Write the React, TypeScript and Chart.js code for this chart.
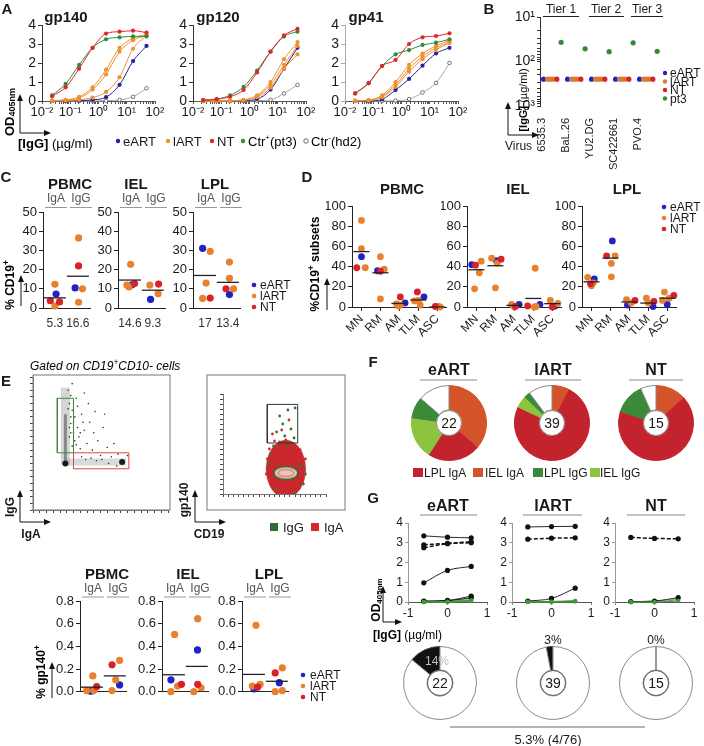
import React, { useEffect, useRef } from "react";
import { Chart, registerables } from "chart.js";

Chart.register(...registerables);

const FONT = "'Liberation Sans', Arial, Helvetica, sans-serif";
Chart.defaults.font.family = FONT;
Chart.defaults.color = "#1a1a1a";

/* ===================== DATA ===================== */
// Panel A: ELISA OD405nm over 3-fold IgG dilutions (µg/ml)
const A_CONC = [0.0229, 0.0686, 0.206, 0.617, 1.85, 5.56, 16.7, 50];
const A_SERIES = ["eART", "lART", "lART", "lART", "NT", "Ctr+", "Ctr-"];
const A_TITLES = ["gp140", "gp120", "gp41"];
const A_GP140 = [
  [0, 0.01, 0.02, 0.06, 0.2, 0.85, 2.1, 2.9],
  [0.02, 0.06, 0.22, 0.72, 1.65, 2.8, 3.3, 3.5],
  [0.02, 0.05, 0.16, 0.6, 1.4, 2.6, 3.2, 3.45],
  [0, 0.02, 0.06, 0.18, 0.48, 1.25, 2.75, 3.45],
  [0.25, 0.72, 1.7, 2.8, 3.55, 3.65, 3.7, 3.6],
  [0.3, 0.9, 1.9, 2.8, 3.25, 3.35, 3.4, 3.4],
  [0, 0, 0, 0, 0.02, 0.06, 0.22, 0.67],
];
const A_GP120 = [
  [0, 0, 0, 0.02, 0.1, 0.6, 1.7, 2.8],
  [0, 0, 0.02, 0.06, 0.3, 1.0, 2.2, 3.1],
  [0, 0, 0.02, 0.05, 0.25, 0.85, 1.9, 2.9],
  [0, 0, 0.01, 0.04, 0.2, 0.7, 1.7, 2.45],
  [0.05, 0.09, 0.23, 0.58, 1.5, 2.6, 3.45, 3.8],
  [0.05, 0.1, 0.3, 0.75, 1.6, 2.6, 3.4, 3.65],
  [0, 0, 0, 0, 0.02, 0.06, 0.4, 0.85],
];
const A_GP41 = [
  [0, 0, 0.09, 0.58, 1.16, 1.86, 2.5, 2.8],
  [0.02, 0.05, 0.3, 1.0, 1.9, 2.5, 2.9, 3.2],
  [0.01, 0.04, 0.25, 0.85, 1.7, 2.35, 2.8, 3.1],
  [0.01, 0.03, 0.2, 0.75, 1.55, 2.2, 2.7, 3.05],
  [0.4, 0.93, 1.85, 2.16, 3.0, 3.35, 3.42, 3.56],
  [0.4, 0.95, 1.84, 2.45, 2.68, 2.95, 3.07, 3.25],
  [0, 0, 0, 0.02, 0.1, 0.45, 0.95, 2.0],
];

// Panel B: neutralization IC50 [IgG] (µg/ml)
const B_VIRUSES = ["6535.3", "BaL.26", "YU2.DG", "SC422661", "PVO.4"];
const B_TIERS = ["Tier 1", "Tier 2", "Tier 3"];
const B_EART = [250, 250, 250, 250, 250];
const B_LART1 = [250, 250, 250, 250, 250];
const B_LART2 = [250, 250, 250, 250, 250];
const B_LART3 = [250, 250, 250, 250, 250];
const B_NT = [250, 250, 250, 250, 250];
const B_PT3 = [37, 52, 60, 38, 59];

// groups: 0 = eART, 1 = lART, 2 = NT
const GROUPS = ["eART", "lART", "NT"];

// Panel C: % of CD19+ (IgA, IgG) per tissue, [group, value]
const C_TISSUES = ["PBMC", "IEL", "LPL"];
const C_ISO = ["IgA", "IgG"];
const C_MEAN_PBMC = [5.3, 16.6];
const C_MEAN_IEL = [14.6, 9.3];
const C_MEAN_LPL = [17, 13.4];
const C_PBMC = [
  [[1, 12.4], [0, 7.3], [2, 3.8], [2, 3.2], [1, 1.0]],
  [[1, 36.6], [2, 22], [0, 10.5], [1, 10], [1, 3]],
];
const C_IEL = [
  [[1, 22.8], [1, 12], [1, 11], [0, 12.1], [2, 12.8]],
  [[1, 12], [2, 12.5], [1, 7.5], [0, 4.5]],
];
const C_LPL = [
  [[0, 31.2], [1, 29.6], [1, 13], [1, 5], [2, 5.2]],
  [[1, 24], [1, 15.5], [2, 10], [1, 10], [0, 7]],
];

// Panel D: % of CD19+ subsets
const D_SUBSETS = ["MN", "RM", "AM", "TLM", "ASC"];
const D_MEAN_PBMC = [55, 34, 3.5, 7, 0];
const D_MEAN_IEL = [37, 41, 1.6, 8.5, 3.3];
const D_MEAN_LPL = [25, 48.6, 5, 3.9, 8.8];
const D_PBMC = [
  [[1, 86], [1, 58], [0, 50], [2, 39], [1, 39]],
  [[1, 50], [0, 36], [2, 35.5], [1, 37.5], [1, 8]],
  [[2, 10], [0, 4], [1, 3], [1, 2], [1, 1]],
  [[2, 15], [0, 10], [1, 6.5], [1, 2], [1, 6]],
  [[2, 0.5], [1, 0], [1, 0.5]],
];
const D_IEL = [
  [[0, 42], [2, 41.5], [1, 45.5], [1, 34], [1, 18]],
  [[1, 48.5], [0, 46], [2, 47.5], [1, 43.5], [1, 19]],
  [[1, 2.5], [0, 2.5], [1, 0], [2, 0.5]],
  [[1, 38.5], [2, 1], [1, 0], [0, 2.5], [1, 0.5]],
  [[1, 6.5], [1, 3.5], [2, 0], [0, 1]],
];
const D_LPL = [
  [[1, 29.5], [0, 27.8], [2, 23], [1, 24], [1, 21]],
  [[0, 65.6], [2, 50.8], [1, 50.8], [1, 43.3], [1, 30]],
  [[1, 7.2], [2, 6.5], [0, 2], [1, 4]],
  [[1, 8.8], [2, 5.6], [0, 0.5], [1, 3.9]],
  [[1, 14.8], [2, 11.5], [1, 8.8], [0, 2.6], [1, 6.5]],
];

// Panel E (bottom): % gp140+ of IgA / IgG B cells
const E_MEAN_PBMC = [0.04, 0.14];
const E_MEAN_IEL = [0.15, 0.224];
const E_MEAN_LPL = [0.153, 0.092];
const E_PBMC = [
  [[1, 0.14], [2, 0.045], [1, 0.01], [0, 0.005], [1, 0.01]],
  [[1, 0.277], [2, 0.238], [1, 0.105], [0, 0.06], [1, 0.01]],
];
const E_IEL = [
  [[1, 0.507], [0, 0.105], [2, 0.065], [1, 0.05], [1, 0]],
  [[1, 0.646], [0, 0.37], [2, 0.065], [1, 0.035], [1, 0]],
];
const E_LPL = [
  [[1, 0.588], [1, 0.05], [1, 0.065], [2, 0.04], [0, 0.025]],
  [[1, 0.21], [2, 0.166], [0, 0.08], [1, 0.01], [1, 0]],
];
// flow cytometry events (arbitrary units 0-100)
const FLOW_IGG_GATE = [[18, 43], [30, 43], [30, 84], [18, 84], [18, 43]];
const FLOW_IGA_GATE = [[30, 31], [71, 31], [71, 43], [30, 43], [30, 31]];
const FLOW_VBAND = [[24, 34], [24, 92]];
const FLOW_VCORE = [[24, 34], [24, 72]];
const FLOW_HBAND = [[25, 36], [69, 36]];
const FLOW_SPOTS = [[24, 35], [66, 36]];
const FLOW_EVENTS = [
  [27, 80], [29, 75], [31, 70], [28, 65], [33, 62], [36, 72], [30, 58], [34, 55], [38, 60], [42, 66],
  [45, 58], [40, 50], [48, 52], [52, 62], [28, 86], [32, 84], [26, 90], [35, 46], [44, 45], [55, 47],
  [60, 50], [50, 41], [38, 88], [27, 55], [29, 48], [58, 40], [63, 42], [46, 74], [53, 72], [70, 41],
  [66, 38], [36, 40], [29, 95], [33, 78], [41, 80], [31, 52], [39, 38], [47, 37], [56, 35], [62, 33],
  [27, 62], [28, 70], [30, 66], [32, 49], [35, 58], [37, 66], [26, 76], [28, 58], [43, 39], [51, 38],
];
const FLOW_GP_GATE = [[43, 51], [72.5, 51], [72.5, 89.6], [43, 89.6], [43, 51]];
const FLOW_IGA_BLOB = [[61, 25]];
const FLOW_IGG_CORE = [[61, 21]];
const FLOW_GP_RED = [
  [48, 60], [57, 64], [64, 74], [61, 54], [50, 53], [67, 49], [45, 45], [73, 40], [78, 30], [44, 25],
  [76, 18], [47, 8], [74, 6], [52, 47], [70, 46], [58, 50], [43, 35], [79, 24], [55, 2], [66, 3],
  [45, 15], [77, 12], [42, 20], [80, 35], [48, 42], [75, 44], [60, 1], [50, 4],
];
const FLOW_GP_GREEN = [
  [55, 78], [63, 84], [58, 70], [66, 65], [52, 62], [60, 58], [69, 56], [55, 52], [70, 86], [46, 40],
  [75, 28], [52, 5], [70, 2], [63, 47], [49, 48], [80, 20], [44, 30], [78, 10],
];

// Panel F: clone distribution (counts), clockwise from top
const F_GROUPS = ["eART", "lART", "NT"];
const F_SEGMENTS = ["IEL IgA", "LPL IgA", "IEL IgG", "LPL IgG", "other"];
const F_EART = [8, 5, 4, 2, 3];
const F_LART = [3, 29, 2, 1, 4];
const F_NT = [2, 10, 0, 2, 1];
const F_LEGEND = ["LPL IgA", "IEL IgA", "LPL IgG", "IEL IgG"];

// Panel G: binding of monoclonal antibodies, x = log10 [IgG] (µg/ml)
const G_X = [-0.6, 0, 0.6];
const G_EART_SOLID = [[3.35, 3.28, 3.25], [0.97, 1.6, 1.8], [0.05, 0.08, 0.3], [0.03, 0.06, 0.22]];
const G_EART_DASHED = [[2.9, 2.97, 3.05], [2.75, 2.95, 3.0]];
const G_EART_GRAY = [[0.02, 0.06, 0.18], [0.01, 0.04, 0.12]];
const G_EART_GREEN = [[0, 0, 0.05], [0, 0.01, 0.08]];
const G_LART_SOLID = [[3.8, 3.82, 3.83], [0.05, 0.18, 0.7]];
const G_LART_DASHED = [[3.18, 3.23, 3.25]];
const G_LART_GRAY = [[0.02, 0.03, 0.08]];
const G_LART_GREEN = [[0, 0, 0.03], [0.02, 0.02, 0.05]];
const G_NT_SOLID = [[0.02, 0.05, 0.22]];
const G_NT_DASHED = [[3.27, 3.22, 3.2]];
const G_NT_GRAY = [[0.01, 0.04, 0.15], [0, 0.03, 0.1]];
const G_NT_GREEN = [[0, 0, 0.05]];
const G_PCT = [14, 3, 0];
const G_TOTAL_LABEL = "5.3% (4/76)";

/* ===================== STYLE ===================== */
const GROUP_COLOR = ["#1f23c4", "#e8812d", "#d8222a"];
const A_COL: Record<string, string> = { eART: "#25259a", lART: "#f0902e", NT: "#e0262a", "Ctr+": "#2f8c3b", "Ctr-": "#666666" };
const A_ORDER: Record<string, number> = { NT: 0, "Ctr+": 1, lART: 2, eART: 3, "Ctr-": 4 };
const F_COLORS = ["#d4532b", "#c3232c", "#8dc43f", "#3b8a3a", "#ffffff"];
const F_LEGEND_COLORS = ["#c3232c", "#d4532b", "#3b8a3a", "#8dc43f"];
const SUPS: Record<string, string> = { "-2": "⁻²", "-1": "⁻¹", "0": "⁰", "1": "¹", "2": "²", "3": "³" };
const pow10Label = (v: number) => {
  const e = Math.log10(v);
  const re = Math.round(e);
  return Math.abs(e - re) < 1e-6 ? "10" + SUPS[String(re)] : "";
};

function ellipseImage(w: number, h: number, fill: string, stroke: string | null, inner: boolean) {
  const c = document.createElement("canvas");
  c.width = w + 4;
  c.height = h + 4;
  const ctx = c.getContext("2d") as CanvasRenderingContext2D;
  ctx.beginPath();
  ctx.ellipse(c.width / 2, c.height / 2, w / 2, h / 2, 0, 0, Math.PI * 2);
  ctx.fillStyle = fill;
  ctx.fill();
  if (stroke) {
    ctx.strokeStyle = stroke;
    ctx.lineWidth = 1.5;
    ctx.stroke();
  }
  if (inner) {
    ctx.beginPath();
    ctx.ellipse(c.width / 2, c.height / 2, w / 2 - 4, h / 2 - 3, 0, 0, Math.PI * 2);
    ctx.strokeStyle = "rgba(180,60,50,0.7)";
    ctx.lineWidth = 1;
    ctx.stroke();
  }
  return c;
}

/* ===================== CHART HELPERS ===================== */
function Plot(props: any) {
  const { l, t, r, b, padL, padB, padT = 8, padR = 12, make } = props;
  const ref = useRef<HTMLCanvasElement | null>(null);
  const W = r - l + padL + padR;
  const H = b - t + padT + padB;
  useEffect(() => {
    const cfg = make();
    const o = cfg.options || (cfg.options = {});
    o.responsive = false;
    o.animation = false;
    o.maintainAspectRatio = false;
    o.devicePixelRatio = 1;
    o.events = [];
    o.layout = { padding: { left: 0, top: padT, right: padR, bottom: 0 } };
    o.plugins = Object.assign({ legend: { display: false }, tooltip: { enabled: false } }, o.plugins || {});
    const zero = (s: any) => {
      s.paddingLeft = 0; s.paddingRight = 0; s.paddingTop = 0; s.paddingBottom = 0;
    };
    o.scales.x.afterFit = (s: any) => { s.height = padB; zero(s); };
    o.scales.y.afterFit = (s: any) => { s.width = padL; zero(s); };
    const ch = new Chart(ref.current as HTMLCanvasElement, cfg);
    return () => ch.destroy();
  }, []);
  return (
    <canvas ref={ref} width={W} height={H}
      style={{ position: "absolute", left: l - padL, top: t - padT, width: W, height: H }} />
  );
}

function Donut(props: any) {
  const { cx, cy, r, values, colors, borders, cutout, rotation = 0, bw = 1 } = props;
  const ref = useRef<HTMLCanvasElement | null>(null);
  const S = 2 * r + 2;
  useEffect(() => {
    const ch = new Chart(ref.current as HTMLCanvasElement, {
      type: "doughnut",
      data: { labels: values.map((_: number, i: number) => String(i)), datasets: [{ data: values, backgroundColor: colors, borderColor: borders, borderWidth: bw }] },
      options: {
        responsive: false, animation: false, maintainAspectRatio: false, devicePixelRatio: 1, events: [],
        cutout, rotation, layout: { padding: 0 },
        plugins: { legend: { display: false }, tooltip: { enabled: false } },
      } as any,
    } as any);
    return () => ch.destroy();
  }, []);
  return <canvas ref={ref} width={S} height={S} style={{ position: "absolute", left: cx - S / 2, top: cy - S / 2, width: S, height: S }} />;
}

function doseCfg(od: number[][], axisColor: string) {
  const datasets = od.map((vals, i) => {
    const g = A_SERIES[i];
    const c = A_COL[g];
    const neg = g === "Ctr-";
    return {
      data: A_CONC.map((x, j) => ({ x, y: vals[j] })),
      showLine: true,
      borderColor: neg ? "#aaaaaa" : c,
      borderWidth: 1,
      pointRadius: neg ? 1.8 : 2.1,
      pointBackgroundColor: neg ? "#ffffff" : c,
      pointBorderColor: neg ? "#555555" : c,
      pointBorderWidth: neg ? 0.8 : 0,
      cubicInterpolationMode: "monotone",
      tension: 0.4,
      clip: false,
      order: A_ORDER[g],
    };
  });
  return {
    type: "scatter",
    data: { datasets },
    options: {
      scales: {
        x: {
          type: "logarithmic", min: 0.01, max: 100,
          ticks: { autoSkip: false, maxRotation: 0, callback: pow10Label, font: { size: 13 }, padding: 1 },
          grid: { drawOnChartArea: false, tickLength: 3, color: "#555" },
          border: { color: "#555" },
        },
        y: {
          min: 0, max: 4,
          ticks: { stepSize: 1, autoSkip: false, font: { size: 14 }, padding: 2 },
          grid: { drawOnChartArea: false, tickLength: 4, color: axisColor },
          border: { color: axisColor },
        },
      },
    },
  };
}

function bCfg() {
  const mk = (vals: number[], off: number, color: string) => ({
    data: vals.map((v, i) => ({ x: i + off, y: v })),
    pointRadius: 2.6, pointBackgroundColor: color, pointBorderWidth: 0, clip: false,
  });
  return {
    type: "scatter",
    data: {
      datasets: [
        mk(B_NT, 0.6, GROUP_COLOR[2]),
        mk(B_LART3, 0.44, "#de7a30"),
        mk(B_LART2, 0.33, "#de7a30"),
        mk(B_LART1, 0.22, "#de7a30"),
        mk(B_EART, 0.05, GROUP_COLOR[0]),
        mk(B_PT3, 0.78, "#2f8c3b"),
      ],
    },
    options: {
      scales: {
        x: {
          type: "linear", min: -0.1, max: 4.9,
          afterBuildTicks: (s: any) => { s.ticks = B_VIRUSES.map((_, i) => ({ value: i })); },
          ticks: { autoSkip: false, minRotation: 90, maxRotation: 90, font: { size: 11 }, padding: 4, callback: (_v: any, i: number) => B_VIRUSES[i] },
          grid: { display: false },
          border: { display: false },
        },
        y: {
          type: "logarithmic", reverse: true, min: 10, max: 1000,
          ticks: { autoSkip: false, callback: pow10Label, font: { size: 14 }, padding: 2 },
          grid: { drawOnChartArea: false, tickLength: 3, color: "#333" },
          border: { color: "#333" },
        },
      },
    },
  };
}

function dotCfg(p: any) {
  const datasets: any[] = [
    {
      data: p.means.map((m: number, i: number) => ({ x: i, y: m })),
      pointStyle: "line", pointRadius: p.meanR, pointBorderColor: "#222", pointBorderWidth: 1.3,
      borderColor: "#222", clip: false, order: 0,
    },
  ];
  [2, 1, 0].forEach((g, k) => {
    const data: any[] = [];
    p.pts.forEach((cat: number[][], ci: number) => {
      cat.forEach((pt, pi) => {
        if (pt[0] === g) data.push({ x: ci + p.dx[ci][pi], y: pt[1] });
      });
    });
    datasets.push({ data, pointRadius: p.dotR, pointBackgroundColor: GROUP_COLOR[g], pointBorderWidth: 0, clip: false, order: k + 1 });
  });
  return {
    type: "scatter",
    data: { datasets },
    options: {
      scales: {
        x: {
          type: "linear", min: p.xMin, max: p.xMax,
          afterBuildTicks: (s: any) => { s.ticks = p.pts.map((_: any, i: number) => ({ value: i })); },
          ticks: {
            display: !!p.xLabels, autoSkip: false, minRotation: p.rot, maxRotation: p.rot,
            font: { size: p.xSize || 12 }, padding: p.xPad ?? 3, color: p.xColor || "#1a1a1a",
            callback: (_v: any, i: number) => (p.xLabels ? p.xLabels[i] : ""),
          },
          grid: { display: p.xTicks, drawOnChartArea: false, tickLength: 4, color: "#222" },
          border: { color: "#222" },
        },
        y: {
          min: 0, max: p.yMax,
          ticks: { stepSize: p.yStep, autoSkip: false, font: { size: p.ySize || 13 }, padding: 2, callback: p.fmt },
          grid: { drawOnChartArea: false, tickLength: 4, color: "#222" },
          border: { color: "#222" },
        },
      },
    },
  };
}

function gCfg(solid: number[][], dashed: number[][], gray: number[][], green: number[][]) {
  const mk = (arr: number[][], color: string, dash: number[], pr: number, bw: number, order: number) =>
    arr.map((vals) => ({
      data: G_X.map((x, i) => ({ x, y: vals[i] })),
      showLine: true, borderColor: color, pointBackgroundColor: color, pointBorderWidth: 0,
      borderDash: dash, borderWidth: bw, pointRadius: pr, cubicInterpolationMode: "monotone", tension: 0.4,
      clip: false, order,
    }));
  return {
    type: "scatter",
    data: {
      datasets: [
        ...mk(green, "#3d9b35", [], 2.2, 1.2, 0),
        ...mk(solid, "#111", [], 2.6, 0.9, 1),
        ...mk(dashed, "#111", [4, 2], 2.6, 1.5, 1),
        ...mk(gray, "#9a9a9a", [], 1.5, 1, 2),
      ],
    },
    options: {
      scales: {
        x: {
          min: -1, max: 1,
          ticks: { stepSize: 1, autoSkip: false, font: { size: 12 }, padding: 1 },
          grid: { drawOnChartArea: false, tickLength: 3, color: "#888" },
          border: { color: "#555", dash: [1, 2] },
        },
        y: {
          min: 0, max: 4,
          ticks: { stepSize: 1, autoSkip: false, font: { size: 12 }, padding: 2 },
          grid: { drawOnChartArea: false, tickLength: 3, color: "#999" },
          border: { color: "#999" },
        },
      },
    },
  };
}

function flowLeftCfg() {
  const line = (pts: number[][], color: string, w: number) => ({
    data: pts.map((q) => ({ x: q[0], y: q[1] })), showLine: true, borderColor: color, borderWidth: w, pointRadius: 0, clip: false,
  });
  return {
    type: "scatter",
    data: {
      datasets: [
        line(FLOW_IGG_GATE, "#3a8a3a", 1),
        line(FLOW_IGA_GATE, "#e04545", 1),
        { data: FLOW_SPOTS.map((q) => ({ x: q[0], y: q[1] })), pointRadius: 3, pointBackgroundColor: "#1a1a1a", pointBorderWidth: 0 },
        { data: FLOW_EVENTS.map((q) => ({ x: q[0], y: q[1] })), pointRadius: 0.8, pointBackgroundColor: "#333", pointBorderWidth: 0 },
        line(FLOW_VCORE, "rgba(60,60,60,0.5)", 3),
        line(FLOW_VBAND, "rgba(150,150,150,0.4)", 9),
        line(FLOW_HBAND, "rgba(160,160,160,0.4)", 7),
      ],
    },
    options: flowScales(),
  };
}

function flowRightCfg() {
  return {
    type: "scatter",
    data: {
      datasets: [
        { data: FLOW_GP_GATE.map((q) => ({ x: q[0], y: q[1] })), showLine: true, borderColor: "#333", borderWidth: 1, pointRadius: 0 },
        { data: FLOW_IGG_CORE.map((q) => ({ x: q[0], y: q[1] })), pointStyle: ellipseImage(24, 13, "rgba(236,205,195,0.95)", "#2e6b2e", true), pointRadius: 8 },
        { data: FLOW_GP_GREEN.map((q) => ({ x: q[0], y: q[1] })), pointRadius: 1.4, pointBackgroundColor: "#2e7a2e", pointBorderWidth: 0 },
        { data: FLOW_GP_RED.map((q) => ({ x: q[0], y: q[1] })), pointRadius: 1.4, pointBackgroundColor: "#d42a2a", pointBorderWidth: 0 },
        { data: FLOW_IGA_BLOB.map((q) => ({ x: q[0], y: q[1] })), pointStyle: ellipseImage(40, 58, "#c8282d", null, false), pointRadius: 20 },
      ],
    },
    options: flowScales(),
  };
}

function flowScales() {
  const ax = {
    min: 0, max: 100,
    ticks: { display: false, stepSize: 5 },
    grid: { drawOnChartArea: false, tickLength: 3, color: "#444" },
    border: { color: "#777" },
  };
  return { scales: { x: { ...ax }, y: { ...ax } } };
}

/* ===================== SVG TEXT HELPERS ===================== */
function Txt(props: any) {
  const { x, y, s = 12, w = 400, a = "middle", c = "#1a1a1a", rot = 0, it = false, children } = props;
  return (
    <text x={x} y={y} fontSize={s} fontWeight={w} textAnchor={a} fill={c} dominantBaseline="central"
      fontStyle={it ? "italic" : "normal"} transform={rot ? `rotate(${rot} ${x} ${y})` : undefined}>
      {children}
    </text>
  );
}

function AxArrows({ x, y, up, right }: any) {
  return (
    <g stroke="#111" strokeWidth={1}>
      <line x1={x} y1={y} x2={x} y2={up + 4} markerEnd="url(#ah)" />
      <line x1={x} y1={y} x2={right - 4} y2={y} markerEnd="url(#ah)" />
    </g>
  );
}

function Sup({ children }: any) {
  return (
    <>
      <tspan dy={-4} fontSize="0.7em">{children}</tspan>
      <tspan dy={4}>{"\u200b"}</tspan>
    </>
  );
}

/* ===================== LAYOUT CONSTANTS ===================== */
const C_DX_PBMC = [[0, 0.05, -0.2, 0.2, 0], [0.03, 0.03, -0.12, 0.2, 0.03]];
const C_DX_IEL = [[0.03, -0.13, -0.04, 0.09, 0.2], [-0.13, 0.25, 0.23, -0.1]];
const C_DX_LPL = [[-0.1, 0.23, 0.05, -0.1, 0.23], [0.07, 0.07, -0.08, 0.25, 0.07]];
const D_DX_PBMC = [[0, 0, 0, -0.25, 0.2], [0, -0.15, 0, 0.2, 0], [0.05, 0.3, -0.15, 0.05, -0.05], [-0.05, 0.3, 0, 0.1, -0.2], [-0.1, 0.15, 0.05]];
const D_DX_IEL = [[-0.25, -0.05, 0.25, 0.15, -0.1], [-0.2, 0.05, 0.3, 0.1, 0], [-0.15, 0.25, 0, 0.05], [0.1, -0.3, 0.05, 0.35, 0.15], [-0.1, 0.3, 0, 0.15]];
const D_DX_LPL = [[-0.2, 0.15, -0.05, 0.1, 0], [0.1, -0.2, 0.25, 0.05, 0.05], [-0.15, 0.3, -0.1, 0.1], [-0.1, 0.3, 0.25, 0], [-0.15, 0.35, 0.1, 0, -0.25]];
const E_DX_PBMC = [[0.04, 0.21, 0.08, -0.05, -0.23], [0.21, -0.12, 0.04, 0.21, -0.12]];
const E_DX_IEL = [[0.03, -0.13, 0.33, 0.16, -0.13], [0.04, 0.03, 0.04, 0.19, -0.13]];
const E_DX_LPL = [[0.09, -0.07, 0.27, 0.16, 0], [0.24, -0.07, 0.11, 0.24, -0.07]];

/* ===================== APP ===================== */
export default function App() {
  const aBoxes = [42, 193, 345];
  const aData = [A_GP140, A_GP120, A_GP41];
  const cL = [43, 118, 193];
  const cPts = [C_PBMC, C_IEL, C_LPL];
  const cDx = [C_DX_PBMC, C_DX_IEL, C_DX_LPL];
  const cMeans = [C_MEAN_PBMC, C_MEAN_IEL, C_MEAN_LPL];
  const dL = [352, 467, 582];
  const dPts = [D_PBMC, D_IEL, D_LPL];
  const dDx = [D_DX_PBMC, D_DX_IEL, D_DX_LPL];
  const dMeans = [D_MEAN_PBMC, D_MEAN_IEL, D_MEAN_LPL];
  const eL = [80, 162, 242];
  const ePts = [E_PBMC, E_IEL, E_LPL];
  const eDx = [E_DX_PBMC, E_DX_IEL, E_DX_LPL];
  const eMeans = [E_MEAN_PBMC, E_MEAN_IEL, E_MEAN_LPL];
  const fCx = [449, 552, 656];
  const fVals = [F_EART, F_LART, F_NT];
  const gL = [408, 512, 615];
  const gCx = [440, 553, 656];
  const gSets = [
    [G_EART_SOLID, G_EART_DASHED, G_EART_GRAY, G_EART_GREEN],
    [G_LART_SOLID, G_LART_DASHED, G_LART_GRAY, G_LART_GREEN],
    [G_NT_SOLID, G_NT_DASHED, G_NT_GRAY, G_NT_GREEN],
  ];
  const fTotals = fVals.map((v) => v.reduce((s, x) => s + x, 0));

  return (
    <div style={{ position: "fixed", left: 0, top: 0, width: 704, height: 746, background: "#fff", overflow: "hidden", fontFamily: FONT }}>
      {/* Panel A */}
      {aBoxes.map((l, i) => (
        <Plot key={"a" + i} l={l} r={l + 113} t={25} b={101} padL={28} padB={22} padR={14}
          make={() => doseCfg(aData[i], i === 2 ? "#aaa" : "#333")} />
      ))}
      {/* Panel B */}
      <Plot l={540} r={660} t={17} b={106} padL={30} padB={72} padR={4} make={bCfg} />
      {/* Panel C */}
      {cL.map((l, i) => (
        <Plot key={"c" + i} l={l} r={l + 52} t={208} b={308} padL={26} padB={22} padR={8}
          make={() => dotCfg({ pts: cPts[i], dx: cDx[i], means: cMeans[i], yMax: 50, yStep: 10, xMin: -0.52, xMax: 1.56, xLabels: cMeans[i].map(String), rot: 0, xTicks: false, meanR: 11, dotR: 3.6, ySize: 13, xSize: 12, xPad: 4, xColor: "#333" })} />
      ))}
      {/* Panel D */}
      {dL.map((l, i) => (
        <Plot key={"d" + i} l={l} r={l + 100} t={205} b={307} padL={26} padB={34} padR={4}
          make={() => dotCfg({ pts: dPts[i], dx: dDx[i], means: dMeans[i], yMax: 100, yStep: 20, xMin: -0.5, xMax: 4.5, xLabels: D_SUBSETS, rot: 45, xTicks: true, meanR: 8, dotR: 3.4, ySize: 13, xSize: 12, xPad: 1 })} />
      ))}
      {/* Panel E flow */}
      <Plot l={33} r={170} t={375} b={510} padL={5} padB={5} padT={2} padR={2} make={flowLeftCfg} />
      <Plot l={207} r={345} t={375} b={510} padL={5} padB={5} padT={2} padR={2} make={flowRightCfg} />
      {/* Panel E bottom */}
      {eL.map((l, i) => (
        <Plot key={"e" + i} l={l} r={l + 51} t={597} b={698} padL={34} padB={6} padR={8}
          make={() => dotCfg({ pts: ePts[i], dx: eDx[i], means: eMeans[i], yMax: 0.8, yStep: 0.2, xMin: -0.52, xMax: 1.52, xLabels: null, rot: 0, xTicks: false, meanR: 11, dotR: 3.6, ySize: 13, fmt: (v: number) => v.toFixed(1) })} />
      ))}
      {/* Panel F */}
      {fCx.map((cx, i) => (
        <Donut key={"f" + i} cx={cx} cy={423} r={37} values={fVals[i]} colors={F_COLORS}
          borders={F_COLORS.map((c) => (c === "#ffffff" ? "#8a8a8a" : c))} cutout={13} />
      ))}
      {/* Panel G */}
      {gL.map((l, i) => (
        <Plot key={"g" + i} l={l} r={l + 79} t={523} b={602} padL={18} padB={18} padR={8}
          make={() => gCfg(gSets[i][0], gSets[i][1], gSets[i][2], gSets[i][3])} />
      ))}
      {gCx.map((cx, i) => (
        <Donut key={"gd" + i} cx={cx} cy={683} r={36} values={[G_PCT[i], 100 - G_PCT[i]]}
          colors={["#111", "#fff"]} borders={["#444", "#8a8a8a"]} cutout={13} rotation={-G_PCT[i] * 3.6} />
      ))}

      <svg width={704} height={746} style={{ position: "absolute", left: 0, top: 0, pointerEvents: "none", fontFamily: FONT }}>
        <defs>
          <marker id="ah" markerWidth={7} markerHeight={7} refX={1} refY={3.5} orient="auto" markerUnits="userSpaceOnUse">
            <path d="M0,0.5 L7,3.5 L0,6.5 z" fill="#111" />
          </marker>
        </defs>

        {/* panel letters */}
        {[["A", 7, 8], ["B", 489, 8], ["C", 6, 176], ["D", 307, 176], ["E", 6, 380], ["F", 373, 361], ["G", 373, 497]].map((p) => (
          <Txt key={p[0] as string} x={p[1]} y={p[2]} s={15} w={700}>{p[0]}</Txt>
        ))}

        {/* ===== A ===== */}
        {A_TITLES.map((t, i) => (
          <Txt key={t} x={[66, 218, 366][i]} y={16} s={15} w={700}>{t}</Txt>
        ))}
        <text x={9} y={112} fontSize={13} fontWeight={700} textAnchor="middle" dominantBaseline="central" transform="rotate(-90 9 112)">
          OD<tspan dy={3} fontSize={9}>405nm</tspan>
        </text>
        <AxArrows x={20} y={133} up={96} right={49} />
        <text x={18} y={143} fontSize={13} dominantBaseline="central">
          <tspan fontWeight={700}>[IgG]</tspan> (µg/ml)
        </text>
        {[
          [118, "eART", A_COL.eART, false], [168, "lART", A_COL.lART, false], [212, "NT", A_COL.NT, false],
          [243, "Ctr+(pt3)", A_COL["Ctr+"], false], [306, "Ctr-(hd2)", "#555", true],
        ].map((it: any) => (
          <g key={it[1]}>
            <circle cx={it[0]} cy={141} r={2.2} fill={it[3] ? "#fff" : it[2]} stroke={it[2]} strokeWidth={it[3] ? 0.9 : 0} />
            {it[1].startsWith("Ctr") ? (
              <text x={it[0] + 5} y={141} fontSize={13} dominantBaseline="central">
                Ctr<tspan dy={-4} fontSize={8}>{it[3] ? "-" : "+"}</tspan><tspan dy={4}>{it[3] ? "(hd2)" : "(pt3)"}</tspan>
              </text>
            ) : (
              <Txt x={it[0] + 5} y={141} s={13} a="start">{it[1]}</Txt>
            )}
          </g>
        ))}

        {/* ===== B ===== */}
        {B_TIERS.map((t, i) => (
          <g key={t}>
            <Txt x={[561, 606, 647][i]} y={9} s={12}>{t}</Txt>
            <line x1={[543, 589, 631][i]} x2={[579, 624, 663][i]} y1={16.5} y2={16.5} stroke="#222" strokeWidth={1} />
          </g>
        ))}
        <text x={523} y={100} fontSize={11} textAnchor="middle" dominantBaseline="central" transform="rotate(-90 523 100)">
          <tspan fontWeight={700}>[IgG]</tspan> (µg/ml)
        </text>
        <AxArrows x={508} y={135} up={104} right={537} />
        <Txt x={505} y={146} s={12} a="start">Virus</Txt>
        {[["eART", GROUP_COLOR[0]], ["lART", "#de7a30"], ["NT", GROUP_COLOR[2]], ["pt3", "#2f8c3b"]].map((it, i) => (
          <g key={it[0]}>
            <circle cx={665} cy={73 + i * 8.5} r={2.2} fill={it[1]} />
            <Txt x={670} y={73 + i * 8.5} s={12} a="start">{it[0]}</Txt>
          </g>
        ))}

        {/* ===== C ===== */}
        {C_TISSUES.map((t, i) => (
          <g key={"ct" + t}>
            <Txt x={[70, 136, 215][i]} y={183} s={15} w={700}>{t}</Txt>
            {C_ISO.map((iso, k) => {
              const cx = cL[i] + 13 + k * 25;
              return (
                <g key={iso}>
                  <Txt x={cx} y={198} s={12} c="#555">{iso}</Txt>
                  <line x1={cx - 11} x2={cx + 11} y1={207.5} y2={207.5} stroke="#999" strokeWidth={1} />
                </g>
              );
            })}
          </g>
        ))}
        <text x={10} y={285} fontSize={12} fontWeight={700} textAnchor="middle" dominantBaseline="central" transform="rotate(-90 10 285)">
          % CD19<Sup>+</Sup>
        </text>
        <line x1={21} y1={306} x2={21} y2={281} stroke="#111" markerEnd="url(#ah)" />
        {GROUPS.map((g, i) => (
          <g key={"cl" + g}>
            <circle cx={254} cy={285 + i * 11} r={2.3} fill={GROUP_COLOR[i]} />
            <Txt x={260} y={285 + i * 11} s={12} a="start">{g}</Txt>
          </g>
        ))}

        {/* ===== D ===== */}
        {C_TISSUES.map((t, i) => (
          <Txt key={"dt" + t} x={[402, 518, 627][i]} y={188} s={15} w={700}>{t}</Txt>
        ))}
        <text x={315} y={264} fontSize={12} fontWeight={700} textAnchor="middle" dominantBaseline="central" transform="rotate(-90 315 264)">
          %CD19<Sup>+</Sup> subsets
        </text>
        <line x1={327} y1={310} x2={327} y2={284} stroke="#111" markerEnd="url(#ah)" />
        {GROUPS.map((g, i) => (
          <g key={"dl" + g}>
            <circle cx={664} cy={207 + i * 11} r={2.3} fill={GROUP_COLOR[i]} />
            <Txt x={670} y={207 + i * 11} s={12} a="start">{g}</Txt>
          </g>
        ))}

        {/* ===== E ===== */}
        <text x={30} y={366} fontSize={12} fontStyle="italic" dominantBaseline="central">
          Gated on CD19<Sup>+</Sup>CD10- cells
        </text>
        <rect x={33} y={375} width={137} height={135} fill="none" stroke="#777" />
        <rect x={207} y={375} width={138} height={135} fill="none" stroke="#777" />
        <Txt x={10} y={507} s={12} w={700} rot={-90}>IgG</Txt>
        <AxArrows x={20} y={522} up={492} right={49} />
        <Txt x={31} y={534} s={12} w={700}>IgA</Txt>
        <Txt x={184} y={500} s={12} w={700} rot={-90}>gp140</Txt>
        <AxArrows x={195} y={522} up={492} right={224} />
        <Txt x={209} y={534} s={12} w={700}>CD19</Txt>
        <rect x={270} y={523} width={8} height={8} fill="#2e6b2e" />
        <Txt x={283} y={527} s={13} a="start">IgG</Txt>
        <rect x={311} y={523} width={8} height={8} fill="#d42a2a" />
        <Txt x={324} y={527} s={13} a="start">IgA</Txt>

        {C_TISSUES.map((t, i) => (
          <g key={"et" + t}>
            <Txt x={[107, 188, 269][i]} y={573} s={15} w={700}>{t}</Txt>
            {C_ISO.map((iso, k) => {
              const cx = eL[i] + 13 + k * 25;
              return (
                <g key={iso}>
                  <Txt x={cx} y={588} s={12} c="#555">{iso}</Txt>
                  <line x1={cx - 11} x2={cx + 11} y1={597} y2={597} stroke="#999" strokeWidth={1} />
                </g>
              );
            })}
          </g>
        ))}
        <text x={41} y={672} fontSize={12} fontWeight={700} textAnchor="middle" dominantBaseline="central" transform="rotate(-90 41 672)">
          % gp140<Sup>+</Sup>
        </text>
        <line x1={52} y1={698} x2={52} y2={668} stroke="#111" markerEnd="url(#ah)" />
        {GROUPS.map((g, i) => (
          <g key={"el" + g}>
            <circle cx={303} cy={675 + i * 11} r={2.3} fill={GROUP_COLOR[i]} />
            <Txt x={310} y={675 + i * 11} s={12} a="start">{g}</Txt>
          </g>
        ))}

        {/* ===== F ===== */}
        {F_GROUPS.map((g, i) => (
          <g key={"ft" + g}>
            <Txt x={[449, 553, 656][i]} y={369} s={16} w={700}>{g}</Txt>
            <line x1={[420, 525, 629][i]} x2={[477, 581, 683][i]} y1={380} y2={380} stroke="#888" />
            <circle cx={fCx[i]} cy={423} r={12.5} fill="#fff" stroke="#888" />
            <Txt x={fCx[i]} y={423} s={14}>{fTotals[i]}</Txt>
          </g>
        ))}
        {F_LEGEND.map((lab, i) => (
          <g key={"fl" + lab}>
            <rect x={[413, 473, 533, 590][i]} y={468} width={10} height={9} fill={F_LEGEND_COLORS[i]} />
            <Txt x={[424, 485, 544, 600][i]} y={472.5} s={12} a="start">{lab}</Txt>
          </g>
        ))}

        {/* ===== G ===== */}
        {F_GROUPS.map((g, i) => (
          <g key={"gt" + g}>
            <Txt x={[448, 553, 656][i]} y={505} s={16} w={700}>{g}</Txt>
            <line x1={[420, 523, 627][i]} x2={[477, 582, 685][i]} y1={515} y2={515} stroke="#888" />
            <circle cx={gCx[i]} cy={683} r={12.5} fill="#fff" stroke="#555" />
            <Txt x={gCx[i]} y={683} s={14}>{fTotals[i]}</Txt>
          </g>
        ))}
        <line x1={656} y1={647} x2={656} y2={670.5} stroke="#8a8a8a" />
        <text x={376} y={600} fontSize={12} fontWeight={700} textAnchor="middle" dominantBaseline="central" transform="rotate(-90 376 600)">
          OD<tspan dy={3} fontSize={8}>405nm</tspan>
        </text>
        <AxArrows x={383} y={622} up={588} right={400} />
        <text x={373} y={635} fontSize={12} dominantBaseline="central">
          <tspan fontWeight={700}>[IgG]</tspan> (µg/ml)
        </text>
        <Txt x={437} y={661} s={12} c="#bdbdbd">{G_PCT[0] + "%"}</Txt>
        <Txt x={553} y={640} s={12}>{G_PCT[1] + "%"}</Txt>
        <Txt x={656} y={640} s={12}>{G_PCT[2] + "%"}</Txt>
        <line x1={450} x2={645} y1={727} y2={727} stroke="#666" />
        <Txt x={548} y={739} s={13}>{G_TOTAL_LABEL}</Txt>
      </svg>
    </div>
  );
}
